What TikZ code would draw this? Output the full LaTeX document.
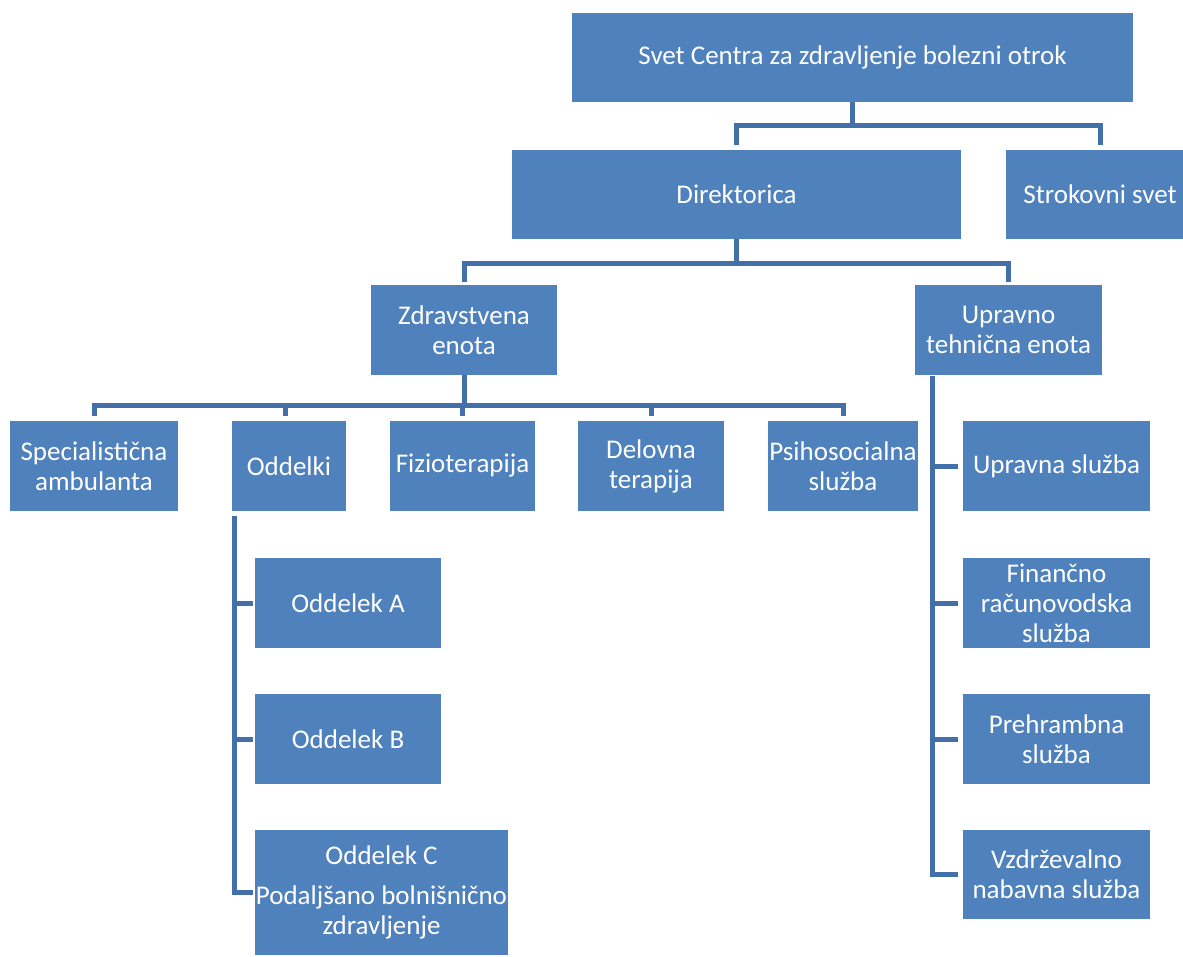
\documentclass[tikz,border=0pt]{standalone}
\usepackage{fontspec}
\setmainfont{Carlito}
\definecolor{boxblue}{RGB}{79,129,189}
\definecolor{linkblue}{RGB}{68,112,170}

\begin{document}
\begin{tikzpicture}[x=1pt, y=-1pt, text=white,
	unit/.style={fill=boxblue, inner sep=0pt, align=center, minimum height=90pt, font=\fontsize{27}{30}\selectfont},
	link/.style={draw=linkblue, line width=5pt}]
\useasboundingbox (0,0) rectangle (1183,956);
\def \rowone {466}
\def \rowtwo {603}
\def \rowthree {739}

%Top level
\node[unit, minimum width=561pt, minimum height=89pt] (svet) at (852.5,57.5) {Svet Centra za zdravljenje bolezni otrok};
\node[unit, minimum width=449pt, minimum height=89pt] (dir) at (736.5,194.5) {Direktorica};
\node[unit, minimum width=188pt, minimum height=89pt] (strok) at (1100,194.5) {Strokovni svet};

%Units
\node[unit, minimum width=186pt] (zdr) at (464,330) {Zdravstvena\\enota};
\node[unit, minimum width=187pt] (upr) at (1008.5,330) {Upravno\\tehnična enota};

%Health unit
\node[unit, minimum width=168pt] (spec) at (94,\rowone) {Specialistična\\ambulanta};
\node[unit, minimum width=114pt] (odd) at (289,\rowone) {Oddelki};
\node[unit, minimum width=145pt] (fiz) at (462.5,\rowone) {Fizioterapija};
\node[unit, minimum width=146pt] (del) at (651,\rowone) {Delovna\\terapija};
\node[unit, minimum width=150pt] (psi) at (843,\rowone) {Psihosocialna\\služba};

%Wards
\node[unit, minimum width=186pt] (odda) at (348,\rowtwo) {Oddelek A};
\node[unit, minimum width=186pt] (oddb) at (348,\rowthree) {Oddelek B};
\node[unit, minimum width=253pt, minimum height=125pt] (oddc) at (381.5,892.5) {Oddelek C\\[10pt]Podaljšano bolnišnično\\zdravljenje};

%Administrative unit
\node[unit, minimum width=187pt] (uprs) at (1056.5,\rowone) {Upravna služba};
\node[unit, minimum width=187pt] (fin) at (1056.5,\rowtwo) {Finančno\\računovodska\\služba};
\node[unit, minimum width=187pt] (preh) at (1056.5,\rowthree) {Prehrambna\\služba};
\node[unit, minimum width=187pt, minimum height=89pt] (vzd) at (1056.5,874.5) {Vzdrževalno\\nabavna služba};

%Lines from the council
\draw[link, shorten >=5pt] (svet.south) -- ++(0,23) -| (dir.north);
\draw[link, shorten >=5pt] (svet.south) -- ++(0,23) -| (strok.north);

%Lines from the director
\draw[link, shorten >=3pt] (dir.south) -- ++(0,24) -| (zdr.north);
\draw[link, shorten >=3pt] (dir.south) -- ++(0,24) -| (upr.north);

%Lines from the health unit
\foreach \n in {spec,fiz,del,psi}
\draw[link, shorten >=5pt] (zdr.south) -- ++(0,30) -| (\n.north);
\draw[link, shorten >=5pt] (zdr.south) -- ++(0,30) -| ([xshift=-4pt]odd.north);

%Lines to the wards
\foreach \n in {odda,oddb,oddc}
\draw[link, shorten >=2pt] ([shift={(3,5)}]odd.south west) |- (\n.west);

%Lines to the services
\foreach \n in {uprs,fin,preh,vzd}
\draw[link, shorten >=5pt] ([shift={(18,1)}]upr.south west) |- (\n.west);

\end{tikzpicture}
\end{document}
